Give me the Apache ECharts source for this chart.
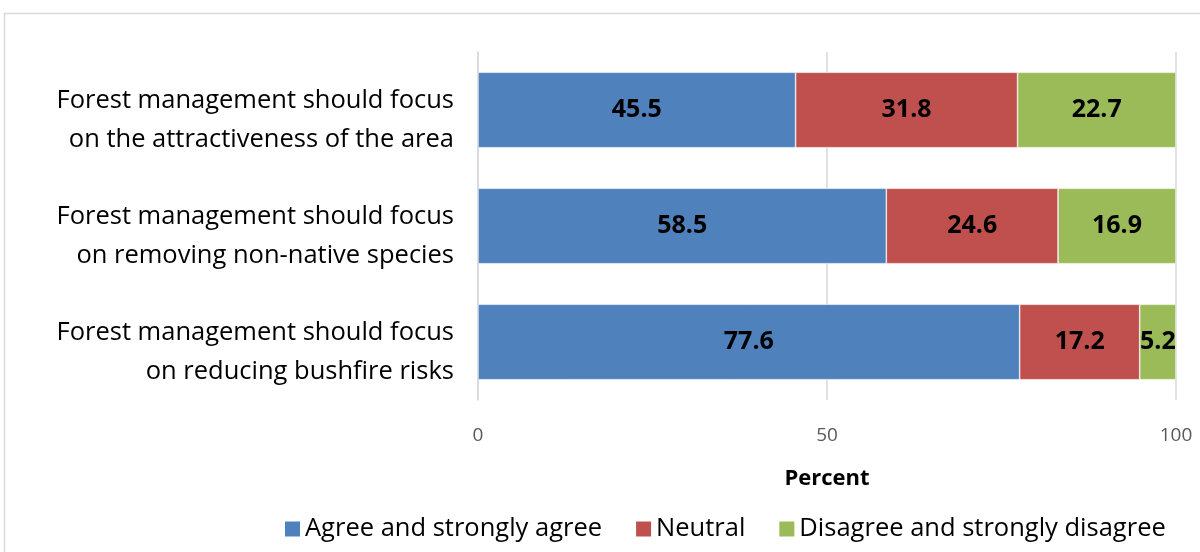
<!DOCTYPE html>
<html>
<head>
<meta charset="utf-8">
<style>
  html, body { margin: 0; padding: 0; background: #fff; }
  #chart { width: 1200px; height: 552px; }
</style>
<script src="https://cdn.jsdelivr.net/npm/echarts@6/dist/echarts.min.js"></script>
</head>
<body>
<div id="chart"></div>
<script>
// Survey statements (top to bottom)
const categories = [
  'Forest management should focus\non the attractiveness of the area',
  'Forest management should focus\non removing non-native species',
  'Forest management should focus\non reducing bushfire risks'
];
const seriesNames = ['Agree and strongly agree', 'Neutral', 'Disagree and strongly disagree'];
const agree = [45.5, 58.5, 77.6];
const neutral = [31.8, 24.6, 17.2];
const disagree = [22.7, 16.9, 5.2];
const colors = ['#4f81bd', '#c0504d', '#9bbb59'];
const xTicks = [0, 50, 100];

const font = '"Open Sans", "Noto Sans", sans-serif';

function barSeries(name, data, color) {
  return {
    name: name,
    type: 'bar',
    stack: 'total',
    barWidth: '65%',
    data: data,
    itemStyle: { color: color, borderColor: '#ffffff', borderWidth: 0.6 },
    label: {
      show: true,
      position: 'inside',
      color: '#000',
      fontFamily: font,
      fontWeight: 'bold',
      fontSize: 25,
      formatter: p => p.value.toFixed(1)
    },
    emphasis: { disabled: true }
  };
}

const chart = echarts.init(document.getElementById('chart'), null, { renderer: 'canvas' });
chart.setOption({
  animation: false,
  backgroundColor: '#fff',
  graphic: [{
    type: 'rect',
    shape: { x: 4.5, y: 13.5, width: 1300, height: 700 },
    style: { fill: 'none', stroke: '#d9d9d9', lineWidth: 1.5 },
    silent: true
  }],
  grid: { left: 478, right: 24, top: 52, bottom: 152, containLabel: false },
  xAxis: {
    type: 'value',
    min: xTicks[0],
    max: xTicks[xTicks.length - 1],
    interval: 50,
    name: 'Percent',
    nameLocation: 'middle',
    nameGap: 68,
    nameTextStyle: { fontFamily: font, fontWeight: 'bold', fontSize: 22, color: '#000' },
    axisLine: { show: false },
    axisTick: { show: false },
    axisLabel: { fontFamily: font, fontSize: 19, color: '#595959', margin: 26 },
    splitLine: { show: true, lineStyle: { color: '#d9d9d9', width: 1.5 } }
  },
  yAxis: {
    type: 'category',
    data: categories,
    inverse: true,
    axisLine: { show: true, lineStyle: { color: '#d9d9d9', width: 1.5 } },
    axisTick: { show: false },
    axisLabel: {
      align: 'right',
      margin: 24,
      // a short empty first line nudges the two text lines slightly below the bar centre
      formatter: v => '{s|}\n' + v.split('\n').map(s => '{t|' + s + '}').join('\n'),
      rich: {
        s: { lineHeight: 20, fontSize: 10 },
        t: { fontFamily: font, fontSize: 25.5, color: '#000', lineHeight: 39, align: 'right' }
      }
    }
  },
  legend: {
    data: seriesNames,
    left: 283,
    top: 516,
    padding: 0,
    itemWidth: 17,
    itemHeight: 17,
    itemGap: 32,
    icon: 'rect',
    textStyle: { fontFamily: font, fontSize: 25.5, color: '#000', padding: [0, 0, 0, -1] }
  },
  series: [
    barSeries(seriesNames[0], agree, colors[0]),
    barSeries(seriesNames[1], neutral, colors[1]),
    barSeries(seriesNames[2], disagree, colors[2])
  ]
});
</script>
</body>
</html>
